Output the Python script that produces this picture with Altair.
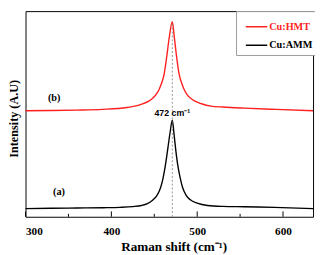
import altair as alt
import pandas as pd

# Curve (a) Cu:AMM
xa = [300, 330, 360, 390, 410, 425, 435, 442, 448, 453, 457, 460, 463, 466, 468.5, 471,
      473, 475, 477, 480, 483, 487, 492, 500, 512, 530, 555, 590, 635]
ya = [8.6, 9.0, 9.3, 9.6, 10.0, 10.8, 12.0, 14.0, 17.5, 22.5, 30, 40, 55, 74, 90, 102.6,
      88, 71, 57, 42, 31, 23, 18, 14.5, 12, 11, 10.6, 10, 8.6]
# Curve (b) Cu:HMT
xb = [300, 330, 360, 390, 418, 430, 437, 443, 448.5, 453, 456, 459, 461.7, 464.4, 467.3, 471,
      473.5, 476.1, 478.7, 481.5, 484.4, 488, 492, 498, 505, 516, 530, 555, 592, 635]
yb = [112.6, 112.8, 113.2, 114, 116, 118, 120, 122.5, 126, 131, 136, 143, 152.6, 169.3, 189.3, 207,
      189.3, 169.3, 152.6, 143, 136, 130, 126, 122.5, 120, 117.5, 116.5, 115.3, 114, 112.6]

series_names = ["Cu:HMT", "Cu:AMM"]
series_colors = ["#ff1f1f", "#000000"]

major_ticks = [300, 400, 500, 600]
minor_ticks = [350, 450, 550]

peak_x = 471
peak_top = 207
peak_label = "472 cm\u207b\u00b9"

label_text = ["(b)", "(a)"]
label_x = [333.4, 338.9]
label_y = [125.6, 26.6]

W, H = 295, 211

df = pd.concat([
    pd.DataFrame({"x": xb, "y": yb, "s": series_names[0], "o": range(len(xb))}),
    pd.DataFrame({"x": xa, "y": ya, "s": series_names[1], "o": range(len(xa))}),
])

xscale = alt.Scale(domain=[300, 635], nice=False, zero=False)
yscale = alt.Scale(domain=[0, 218.3], nice=False, zero=False)

serif = "'Liberation Serif', 'Times New Roman', serif"

lines = alt.Chart(df).mark_line(strokeWidth=1.4, interpolate="monotone").encode(
    x=alt.X("x:Q", scale=xscale,
            axis=alt.Axis(title="Raman shift (cm\u207b\u00b9)", values=major_ticks, grid=False,
                          domain=False, ticks=False, tickSize=0, labelPadding=9,
                          labelFont=serif, labelFontSize=11.5, labelFontWeight="bold",
                          labelColor="black", titleFont=serif, titleFontSize=13.5,
                          titleFontWeight="bold", titleColor="black",
                          titleX=152, titleY=31, titleBaseline="middle")),
    y=alt.Y("y:Q", scale=yscale,
            axis=alt.Axis(title="Intensity (A.U)", labels=False, ticks=False, domain=False,
                          grid=False, titleFont=serif, titleFontSize=12.5,
                          titleFontWeight="bold", titleColor="black",
                          titleX=-12, titleY=110, titleBaseline="middle")),
    color=alt.Color("s:N", scale=alt.Scale(domain=series_names, range=series_colors),
                    legend=alt.Legend(title=None, orient="none", legendX=216, legendY=0,
                                      symbolType="stroke", symbolSize=484, symbolStrokeWidth=1.5,
                                      labelFont=serif, labelFontSize=10.5, labelFontWeight="bold",
                                      labelColor={"expr": "datum.label == 'Cu:HMT' ? '#ff1f1f' : 'black'"},
                                      strokeColor="#999999", fillColor="white", padding=4,
                                      rowPadding=1, labelOffset=1, symbolOffset=5)),
    order="o:Q",
)

dash = alt.Chart(pd.DataFrame({"x": [peak_x], "y": [0], "y2": [peak_top]})).mark_rule(
    color="#777777", strokeWidth=0.8, strokeDash=[2, 2]).encode(
    x=alt.X("x:Q", scale=xscale), y=alt.Y("y:Q", scale=yscale), y2="y2:Q")

major = alt.Chart(pd.DataFrame({"x": major_ticks})).mark_rule(color="black", strokeWidth=1).encode(
    x=alt.X("x:Q", scale=xscale), y=alt.value(H), y2=alt.value(H - 5.5))
minor = alt.Chart(pd.DataFrame({"x": minor_ticks})).mark_rule(color="black", strokeWidth=1).encode(
    x=alt.X("x:Q", scale=xscale), y=alt.value(H), y2=alt.value(H - 3))

peak_txt = alt.Chart(pd.DataFrame({"x": [peak_x], "y": [110.6], "t": [peak_label]})).mark_text(
    font="Liberation Sans", fontSize=9, fontWeight="bold", color="black", baseline="middle").encode(
    x=alt.X("x:Q", scale=xscale), y=alt.Y("y:Q", scale=yscale), text="t:N")

lab_txt = alt.Chart(pd.DataFrame({"x": label_x, "y": label_y, "t": label_text})).mark_text(
    font=serif, fontSize=10.5, fontWeight="bold", color="black", baseline="middle").encode(
    x=alt.X("x:Q", scale=xscale), y=alt.Y("y:Q", scale=yscale), text="t:N")

chart = alt.layer(lines, dash, major, minor, peak_txt, lab_txt).properties(
    width=W, height=H,
    autosize=alt.AutoSizeParams(type="none"),
    padding={"left": 18, "top": 0, "right": 2, "bottom": 36},
).configure_view(stroke="black", strokeWidth=1)

chart.save("out.html", embed_options={"renderer": "svg", "actions": False})
